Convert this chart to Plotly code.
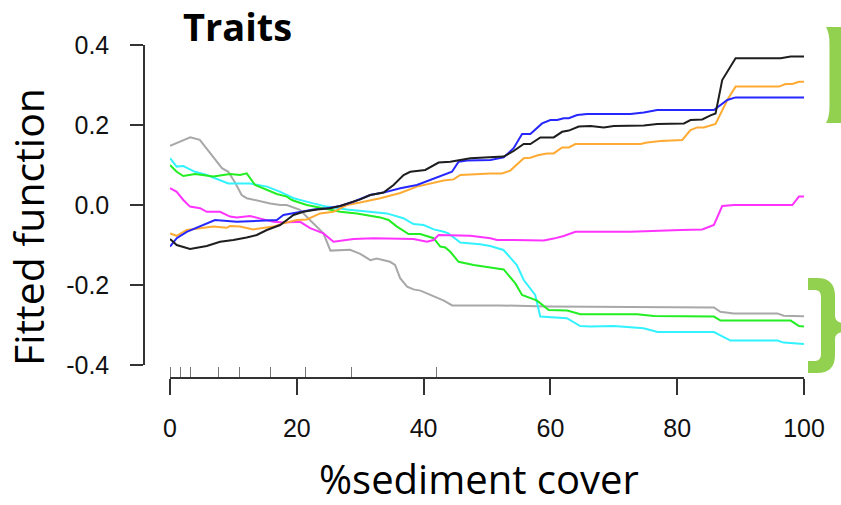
import plotly.graph_objects as go

# ---------------- data ----------------
gray_x = [0, 3.2, 4.7, 6.3, 8.2, 9.2, 10.3, 11.3, 12.1, 15.8, 17.4, 18.4, 20.5, 22.1, 24.2, 25.3,
          28.4, 30.0, 31.6, 32.6, 34.7, 35.5, 36.3, 37.4, 38.4, 39.5, 41.6, 43.2, 44.5, 52.1, 59.5,
          85.8, 86.8, 88.9, 95.8, 96.8, 100]
gray_y = [0.148, 0.169, 0.163, 0.13, 0.092, 0.083, 0.055, 0.025, 0.017, 0.004, 0.0, 0.0, -0.012,
          -0.038, -0.071, -0.114, -0.112, -0.122, -0.138, -0.134, -0.142, -0.150, -0.183, -0.204,
          -0.211, -0.214, -0.229, -0.239, -0.251, -0.251, -0.254, -0.256, -0.267, -0.271, -0.271,
          -0.277, -0.278]

cyan_x = [0, 1.06, 2.1, 3.95, 5.8, 7.9, 9.2, 12.6, 15.3, 17.4, 18.4, 19.5, 22.6, 24.7, 27.9, 32.1,
          34.2, 36.8, 38.4, 40.0, 41.6, 43.2, 43.9, 45.8, 48.9, 50.5, 52.6, 54.7, 55.8, 57.6, 58.4,
          62.6, 64.7, 66.3, 70.0, 74.7, 76.9, 85.8, 88.4, 95.8, 96.8, 100]
cyan_y = [0.117, 0.096, 0.0975, 0.083, 0.075, 0.0625, 0.054, 0.054, 0.046, 0.033, 0.025, 0.017,
          0.004, -0.004, -0.011, -0.017, -0.021, -0.033, -0.0475, -0.05, -0.061, -0.067, -0.071,
          -0.094, -0.098, -0.1025, -0.1125, -0.15, -0.1875, -0.225, -0.279, -0.283, -0.3025,
          -0.304, -0.3025, -0.308, -0.3175, -0.3175, -0.339, -0.339, -0.344, -0.3475]

green_x = [0, 1.06, 2.1, 3.95, 6.84, 9.47, 11.05, 12.1, 13.42, 15.27, 16.85, 18.43, 19.22, 20.0,
           21.58, 24.2, 26.84, 29.48, 31.58, 33.16, 34.47, 35.8, 37.63, 39.47, 41.58, 42.63, 43.42,
           44.21, 45.52, 47.89, 50.53, 52.63, 54.47, 55.53, 57.9, 59.74, 62.64, 64.74, 73.69,
           76.32, 85.79, 86.84, 97.9, 99.2, 100]
green_y = [0.1, 0.083, 0.0725, 0.0775, 0.071, 0.0775, 0.075, 0.079, 0.05, 0.0375, 0.0275, 0.021,
           0.0125, 0.008, 0.0, -0.008, -0.017, -0.021, -0.0275, -0.031, -0.0375, -0.054, -0.0725,
           -0.0725, -0.083, -0.104, -0.106, -0.117, -0.142, -0.15, -0.156, -0.161, -0.196, -0.225,
           -0.239, -0.2625, -0.264, -0.273, -0.273, -0.2775, -0.279, -0.289, -0.289, -0.3025,
           -0.304]

magenta_x = [0, 1.06, 2.1, 3.16, 4.74, 5.8, 7.9, 9.47, 10.53, 12.63, 14.73, 16.31, 17.89, 20.53,
             22.1, 24.2, 25.79, 26.84, 28.94, 32.1, 38.42, 40.53, 41.58, 42.37, 47.37, 50.53,
             51.58, 54.2, 58.94, 60.52, 62.1, 63.95, 72.63, 80.53, 83.95, 85.79, 87.1, 88.95,
             98.16, 99.2, 100]
magenta_y = [0.042, 0.033, 0.0125, -0.004, -0.008, -0.017, -0.017, -0.029, -0.031, -0.0275,
             -0.036, -0.042, -0.044, -0.042, -0.058, -0.071, -0.092, -0.09, -0.085, -0.083,
             -0.085, -0.092, -0.0875, -0.075, -0.077, -0.083, -0.0875, -0.0875, -0.089, -0.084,
             -0.0775, -0.067, -0.067, -0.0625, -0.061, -0.05, -0.0025, 0.0, 0.0, 0.021, 0.021]

orange_x = [0, 1.06, 2.64, 4.74, 6.84, 8.95, 9.47, 11.05, 13.15, 16.31, 17.89, 20.0, 21.58, 23.68,
            25.79, 27.9, 30.0, 33.16, 36.32, 38.95, 41.05, 43.16, 44.73, 45.79, 50.53, 52.37,
            53.68, 55.79, 56.84, 58.16, 59.48, 60.52, 61.85, 62.9, 63.95, 74.21, 75.27, 77.37,
            80.8, 82.1, 83.16, 84.2, 86.05, 87.9, 89.21, 96.05, 97.1, 98.16, 99.2, 100]
orange_y = [-0.071, -0.077, -0.0625, -0.058, -0.054, -0.057, -0.0525, -0.054, -0.061, -0.054,
            -0.046, -0.0375, -0.036, -0.021, -0.017, 0.0, 0.006, 0.017, 0.03, 0.046, 0.054,
            0.061, 0.064, 0.075, 0.079, 0.079, 0.086, 0.117, 0.118, 0.125, 0.129, 0.129, 0.144,
            0.144, 0.1525, 0.1525, 0.156, 0.16, 0.1625, 0.1875, 0.194, 0.194, 0.2025, 0.2625,
            0.296, 0.296, 0.3025, 0.3025, 0.308, 0.308]

blue_x = [0, 1.06, 2.64, 4.74, 7.1, 10.53, 15.27, 16.85, 17.89, 20.0, 22.63, 24.74, 26.84, 28.94,
          31.58, 33.68, 36.32, 38.95, 41.05, 42.9, 44.48, 45.52, 46.85, 50.53, 52.63, 54.2, 55.53,
          56.84, 58.69, 60.0, 61.06, 62.1, 62.9, 64.22, 65.8, 72.63, 74.74, 76.85, 85.79, 87.9,
          89.21, 100]
blue_y = [-0.104, -0.083, -0.067, -0.054, -0.0375, -0.042, -0.0375, -0.0375, -0.025, -0.019,
          -0.011, -0.008, -0.0025, 0.008, 0.025, 0.031, 0.042, 0.05, 0.0625, 0.0725, 0.083, 0.108,
          0.111, 0.1125, 0.119, 0.142, 0.1775, 0.1775, 0.204, 0.2125, 0.2125, 0.217, 0.217, 0.225,
          0.2275, 0.2275, 0.231, 0.2375, 0.2375, 0.2625, 0.269, 0.269]

black_x = [0, 1.06, 3.16, 5.8, 7.9, 10.0, 12.1, 13.69, 15.27, 17.37, 18.43, 19.47, 21.05, 23.16,
           25.26, 26.84, 28.42, 30.0, 31.58, 33.68, 35.26, 36.84, 37.9, 40.26, 42.37, 44.21,
           47.37, 52.63, 54.2, 55.79, 56.84, 58.42, 60.52, 61.85, 62.9, 64.47, 66.32, 68.42, 70.0,
           74.74, 76.85, 81.06, 82.1, 83.95, 85.26, 86.05, 87.1, 89.21, 96.32, 97.9, 100]
black_y = [-0.085, -0.1, -0.11, -0.1025, -0.092, -0.0875, -0.081, -0.075, -0.0625, -0.05, -0.0375,
           -0.025, -0.017, -0.011, -0.008, -0.0025, 0.006, 0.014, 0.025, 0.031, 0.05, 0.075, 0.083,
           0.0875, 0.106, 0.108, 0.117, 0.121, 0.135, 0.1525, 0.1525, 0.169, 0.169, 0.183, 0.186,
           0.196, 0.1975, 0.194, 0.1975, 0.199, 0.2025, 0.204, 0.2125, 0.214, 0.224, 0.229,
           0.3125, 0.367, 0.367, 0.371, 0.371]

rug_x = [0.1, 1.6, 3.2, 7.6, 10.9, 15.8, 21.4, 28.6, 42.1]

x_ticks = [0, 20, 40, 60, 80, 100]
x_ticktext = ["0", "20", "40", "60", "80", "100"]
y_ticks = [-0.4, -0.2, 0.0, 0.2, 0.4]
y_ticktext = ["-0.4", "-0.2", "0.0", "0.2", "0.4"]

series = [
    ("gray", gray_x, gray_y, "#A8A8A8"),
    ("cyan", cyan_x, cyan_y, "#33F2FF"),
    ("green", green_x, green_y, "#22EE22"),
    ("magenta", magenta_x, magenta_y, "#FF33FF"),
    ("orange", orange_x, orange_y, "#FFAA33"),
    ("blue", blue_x, blue_y, "#2626FF"),
    ("black", black_x, black_y, "#1E1E1E"),
]

# ---------------- layout geometry ----------------
W_FIG, H_FIG = 841, 505
ML, MR, MT, MB = 144, 37, 45, 127
PW = W_FIG - ML - MR
PH = H_FIG - MT - MB


def px(X):
    return (X - ML) / PW


def py(Y):
    return (H_FIG - MB - Y) / PH


def path(cmds):
    out = []
    for c in cmds:
        letter, pts = c[0], c[1:]
        s = letter
        for i in range(0, len(pts), 2):
            s += " %.5f,%.5f" % (px(pts[i]), py(pts[i + 1]))
        out.append(s)
    return " ".join(out) + " Z"


fig = go.Figure()
for name, xs, ys, col in series:
    fig.add_trace(go.Scatter(x=xs, y=ys, mode="lines", name=name,
                             line=dict(color=col, width=2), hoverinfo="skip"))

axis_col = "#333333"
fig.update_layout(
    width=W_FIG, height=H_FIG, autosize=False,
    margin=dict(l=ML, r=MR, t=MT, b=MB, pad=0),
    paper_bgcolor="white", plot_bgcolor="white",
    showlegend=False,
    xaxis=dict(
        domain=[px(170), 1], range=[0, 100], anchor="free", position=0,
        showgrid=False, zeroline=False, showline=True, linecolor=axis_col, linewidth=1.5,
        ticks="outside", ticklen=16, tickwidth=1.5, tickcolor=axis_col,
        tickmode="array", tickvals=x_ticks, ticktext=x_ticktext,
        tickfont=dict(family="Liberation Sans", size=25, color="#111111"),
        ticklabelstandoff=12, automargin=False,
        minor=dict(tickmode="array", tickvals=rug_x, ticks="inside", ticklen=10,
                   tickwidth=1.2, tickcolor="#777777", showgrid=False),
    ),
    yaxis=dict(
        domain=[py(365), 1], range=[-0.4, 0.4], anchor="free", position=0,
        showgrid=False, zeroline=False, showline=True, linecolor=axis_col, linewidth=1.5,
        ticks="outside", ticklen=13, tickwidth=1.5, tickcolor=axis_col,
        tickmode="array", tickvals=y_ticks, ticktext=y_ticktext,
        tickfont=dict(family="Liberation Sans", size=25, color="#111111"),
        ticklabelstandoff=16, automargin=False,
    ),
)

annos = [
    dict(text="<b>Traits</b>", x=px(181), y=py(26.5), xanchor="left", yanchor="middle",
         font=dict(family="Open Sans", size=38, color="black")),
    dict(text="Fitted function", x=px(28), y=py(227), xanchor="center", yanchor="middle",
         textangle=-90, font=dict(family="Open Sans", size=41, color="black")),
    dict(text="%sediment cover", x=px(479), y=py(478), xanchor="center", yanchor="middle",
         height=44, font=dict(family="Open Sans", size=40, color="black")),
]
for a in annos:
    fig.add_annotation(xref="paper", yref="paper", showarrow=False, **a)

bracket_col = "#92D050"
top_bracket = path([
    ("M", 826, 27), ("L", 843, 27), ("L", 843, 123), ("L", 826, 123),
    ("Q", 829.5, 117, 829.5, 106), ("L", 829.5, 44), ("Q", 829.5, 33, 826, 27),
])
bottom_bracket = path([
    ("M", 808, 278), ("L", 817, 278), ("Q", 835, 278, 835, 296), ("L", 835, 316),
    ("Q", 835, 322, 843, 323), ("L", 843, 332), ("Q", 835, 333, 835, 339), ("L", 835, 355),
    ("Q", 835, 373, 817, 373), ("L", 808, 373), ("L", 808, 361), ("L", 815, 361),
    ("Q", 821, 361, 821, 354), ("L", 821, 297), ("Q", 821, 290, 815, 290), ("L", 808, 290),
])
for p in (top_bracket, bottom_bracket):
    fig.add_shape(type="path", xref="paper", yref="paper", path=p,
                  fillcolor=bracket_col, line=dict(width=0), layer="above")

fig.write_html("out.html")
